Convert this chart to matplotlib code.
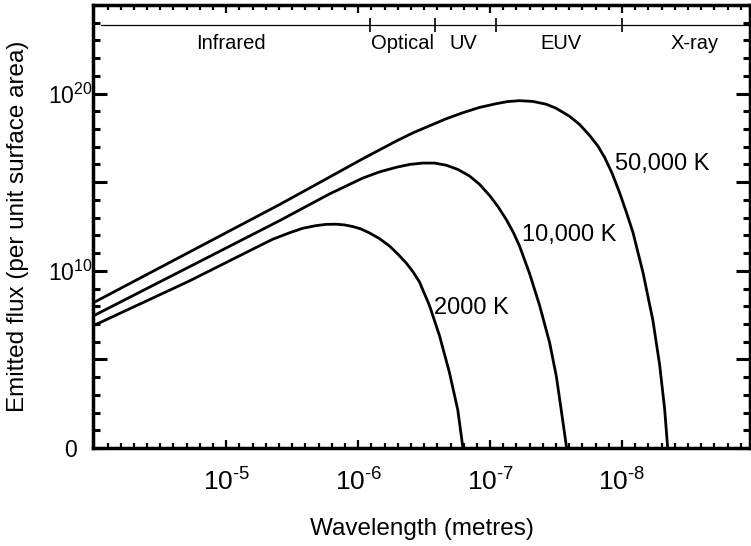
import numpy as np
import matplotlib
matplotlib.use('Agg')
import matplotlib.pyplot as plt
from matplotlib.ticker import FixedLocator, FuncFormatter, NullFormatter

plt.rcParams['font.family'] = ['Liberation Sans', 'DejaVu Sans']
plt.rcParams['mathtext.fontset'] = 'custom'
plt.rcParams['mathtext.rm'] = 'Liberation Sans'
plt.rcParams['mathtext.it'] = 'Liberation Sans:italic'
plt.rcParams['mathtext.bf'] = 'Liberation Sans:bold'

# log10(wavelength in m) and log10(emitted flux)
loglam_50000 = [-3.983, -4.719, -5.402, -5.781, -6.034, -6.288, -6.414, -6.540, -6.667,
                -6.793, -6.920, -7.046, -7.132, -7.223, -7.322, -7.426, -7.501, -7.602,
                -7.678, -7.754, -7.817, -7.868, -7.925, -7.982, -8.033, -8.083, -8.159,
                -8.234, -8.285, -8.323, -8.346]
logflux_50000 = [8.16, 11.05, 13.73, 15.28, 16.32, 17.32, 17.78, 18.18, 18.58,
                 18.92, 19.22, 19.43, 19.55, 19.60, 19.56, 19.40, 19.17, 18.72,
                 18.26, 17.64, 17.04, 16.40, 15.50, 14.40, 13.30, 12.16, 9.90,
                 7.20, 4.70, 2.20, 0.0]

loglam_10000 = [-3.983, -4.719, -5.402, -5.781, -6.034, -6.161, -6.288, -6.389, -6.489,
                -6.578, -6.667, -6.756, -6.844, -6.920, -6.995, -7.060, -7.122, -7.175,
                -7.223, -7.299, -7.375, -7.451, -7.502, -7.539, -7.580]
logflux_10000 = [7.42, 10.22, 12.82, 14.33, 15.23, 15.58, 15.84, 16.00, 16.08,
                 16.08, 15.96, 15.72, 15.35, 14.88, 14.26, 13.62, 12.90, 12.18,
                 11.40, 9.85, 8.05, 5.95, 4.05, 2.15, 0.0]

loglam_2000 = [-3.983, -4.719, -5.225, -5.352, -5.478, -5.580, -5.681, -5.757, -5.832,
               -5.895, -5.958, -6.022, -6.085, -6.161, -6.237, -6.300, -6.363, -6.414,
               -6.464, -6.540, -6.616, -6.692, -6.755, -6.794]
logflux_2000 = [6.87, 9.42, 11.31, 11.78, 12.14, 12.40, 12.55, 12.62, 12.63,
                12.59, 12.50, 12.36, 12.14, 11.82, 11.40, 10.95, 10.45, 9.96,
                9.38, 8.05, 6.35, 4.25, 2.15, 0.0]

# spectral bands along the top
band_edges = [8.2e-7, 2.6e-7, 9.0e-8, 1.0e-8]
band_names = ['Infrared', 'Optical', 'UV', 'EUV', 'X-ray']
band_centres = [9.2e-6, 4.6e-7, 1.6e-7, 2.9e-8, 2.8e-9]

fig = plt.figure(figsize=(7.51, 5.46), dpi=100)
ax = fig.add_axes([93 / 751, 98 / 546, 657 / 751, 443 / 546])

for lam, flux in [(loglam_50000, logflux_50000), (loglam_10000, logflux_10000),
                  (loglam_2000, logflux_2000)]:
    ax.plot(10.0 ** np.array(lam), 10.0 ** np.array(flux), color='black', lw=2.0,
            solid_joinstyle='round')

ax.set_xscale('log')
ax.set_yscale('log')
ax.set_xlim(10 ** -3.99, 10 ** -8.97)
ax.set_ylim(1, 1e25)

# band bar
ax.plot([10 ** -4.052, 10 ** -8.97], [10 ** 23.85] * 2, color='black', lw=0.9)
ax.vlines(band_edges, 10 ** 23.46, 10 ** 24.25, color='black', lw=1.2)
for name, c in zip(band_names, band_centres):
    ax.text(c, 10 ** 22.8, name, ha='center', va='center', fontsize=14.5)

# curve labels
ax.text(10 ** -7.944, 10 ** 16.03, '50,000 K', ha='left', va='center', fontsize=17)
ax.text(10 ** -7.238, 10 ** 12.01, '10,000 K', ha='left', va='center', fontsize=17)
ax.text(10 ** -6.578, 10 ** 7.88, '2000 K', ha='left', va='center', fontsize=17)

# ticks: evenly spaced in exponent
ax.xaxis.set_major_locator(FixedLocator([1e-5, 1e-6, 1e-7, 1e-8]))
ax.xaxis.set_minor_locator(FixedLocator([10 ** (-k / 10) for k in range(40, 90) if k % 10]))
ax.xaxis.set_major_formatter(
    FuncFormatter(lambda v, p: r'$10^{\text{-%d}}$' % abs(round(np.log10(v)))))
ax.xaxis.set_minor_formatter(NullFormatter())


def ylab(v, p):
    e = round(np.log10(v))
    if e == 0:
        return '0'
    if e in (10, 20):
        return r'$10^{%d}$' % e
    return ''


ax.yaxis.set_major_locator(FixedLocator([10.0 ** k for k in range(0, 26, 5)]))
ax.yaxis.set_minor_locator(FixedLocator([10.0 ** k for k in range(26) if k % 5]))
ax.yaxis.set_major_formatter(FuncFormatter(ylab))
ax.yaxis.set_minor_formatter(NullFormatter())

ax.tick_params(which='both', direction='in', top=True, right=True)
ax.tick_params(axis='y', which='major', length=10, width=2.2, pad=16, labelsize=16.5)
ax.tick_params(axis='y', which='minor', length=5, width=2.2)
ax.tick_params(axis='x', which='major', length=6, width=1.6, pad=15, labelsize=19)
ax.tick_params(axis='x', which='minor', length=3.5, width=1.6)
plt.setp(ax.get_yticklabels(), ha='center')

for s in ax.spines.values():
    s.set_linewidth(2.5)

ax.set_xlabel('Wavelength (metres)', fontsize=17.5, labelpad=16)
ax.set_ylabel('Emitted flux (per unit surface area)', fontsize=17.5, labelpad=14)

fig.savefig('out.png', dpi=100)
